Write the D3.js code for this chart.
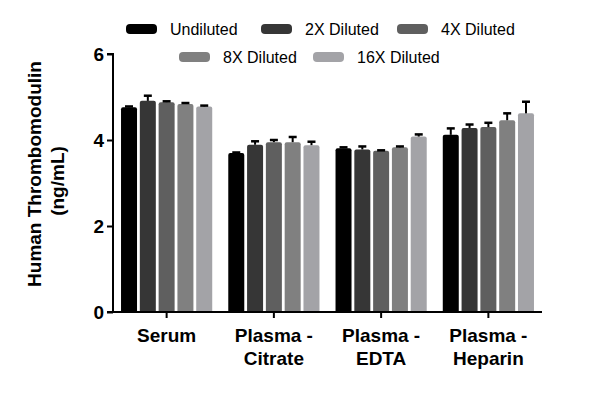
<!DOCTYPE html>
<html><head><meta charset="utf-8">
<script src="https://cdn.jsdelivr.net/npm/d3@7"></script>
<style>body{margin:0;background:#fff}svg{display:block}text{font-family:"Liberation Sans",Arial,sans-serif}</style>
</head><body><svg id="c" width="600" height="394"></svg>
<script>
const categories = [["Serum"], ["Plasma -", "Citrate"], ["Plasma -", "EDTA"], ["Plasma -", "Heparin"]];
const series = ["Undiluted", "2X Diluted", "4X Diluted", "8X Diluted", "16X Diluted"];
const colors = ["#000000", "#363636", "#5f5f5f", "#808080", "#a3a3a7"];
// values per category, per series
const undiluted = [4.76, 3.70, 3.81, 4.12];
const diluted2x = [4.91, 3.89, 3.78, 4.28];
const diluted4x = [4.88, 3.95, 3.75, 4.30];
const diluted8x = [4.84, 3.95, 3.83, 4.46];
const diluted16x = [4.78, 3.88, 4.08, 4.62];
const err2 = [[0.02, 0.12, 0.02, 0.02, 0.02], [0.01, 0.08, 0.05, 0.12, 0.08], [0.02, 0.07, 0.01, 0.02, 0.05], [0.15, 0.08, 0.10, 0.16, 0.27]];
const yTicks = [0, 2, 4, 6];

const values = [undiluted, diluted2x, diluted4x, diluted8x, diluted16x];
const svg = d3.select("#c");
const x0 = d3.scaleBand().domain(d3.range(categories.length)).range([113, 542]);
const gw = 91.2;
const x1 = d3.scaleBand().domain(series).range([0, gw]).paddingInner(0.149);
const y = d3.scaleLinear().domain([0, 6]).range([312, 54]);

// bars
categories.forEach((c, ci) => {
  const gx = x0(ci) + x0.bandwidth() / 2 - gw / 2;
  const g = svg.append("g").attr("transform", `translate(${gx},0)`);
  series.forEach((s, si) => {
    const v = values[si][ci];
    const bx = x1(s), bw = x1.bandwidth();
    const top = y(v), bot = y(0);
    const r = 2;
    g.append("path")
      .attr("d", `M${bx},${bot}V${top + r}Q${bx},${top} ${bx + r},${top}H${bx + bw - r}Q${bx + bw},${top} ${bx + bw},${top + r}V${bot}Z`)
      .attr("fill", colors[si]);
    const e = err2[ci][si];
    const cx = bx + bw / 2;
    g.append("line").attr("x1", cx).attr("x2", cx).attr("y1", top).attr("y2", y(v + e))
      .attr("stroke", "#000").attr("stroke-width", 2);
    g.append("line").attr("x1", cx - 4).attr("x2", cx + 4).attr("y1", y(v + e)).attr("y2", y(v + e))
      .attr("stroke", "#000").attr("stroke-width", 2.5);
  });
});

// y axis
const ya = svg.append("g").attr("transform", "translate(113,0)")
  .call(d3.axisLeft(y).tickValues(yTicks).tickSize(6).tickPadding(3).tickFormat(d3.format("d")));
ya.select(".domain").attr("stroke", "#000").attr("stroke-width", 2).attr("d", "M-6,54H0V312H-6");
ya.selectAll(".tick line").attr("stroke", "#000").attr("stroke-width", 2);
ya.selectAll(".tick text").attr("font-size", 19).attr("font-weight", "bold").attr("fill", "#000")
  .attr("font-family", "Liberation Sans, Arial, sans-serif");

// x axis
const xa = svg.append("g").attr("transform", "translate(0,312)")
  .call(d3.axisBottom(x0).tickSize(6).tickFormat(""));
xa.select(".domain").attr("stroke", "#000").attr("stroke-width", 2).attr("d", "M113,0H542");
xa.selectAll(".tick line").attr("stroke", "#000").attr("stroke-width", 2);
xa.selectAll(".tick").each(function(d) {
  const t = d3.select(this).append("text").attr("text-anchor", "middle").attr("fill", "#000")
    .attr("font-size", 19).attr("font-weight", "bold").attr("font-family", "Liberation Sans, Arial, sans-serif");
  categories[d].forEach((ln, i) => t.append("tspan").attr("x", 0).attr("y", 30 + i * 23).text(ln));
});

// y title
const yt = svg.append("text").attr("transform", "translate(41,174) rotate(-90)").attr("text-anchor", "middle")
  .attr("font-size", 19).attr("font-weight", "bold").attr("fill", "#000").text("Human Thrombomodulin");
svg.append("text").attr("transform", "translate(64,181) rotate(-90)").attr("text-anchor", "middle")
  .attr("font-size", 19).attr("font-weight", "bold").attr("fill", "#000").text("(ng/mL)");

// legend
const legPos = [[126, 29], [261, 29], [397, 29], [179, 57], [313, 57]];
series.forEach((s, i) => {
  const [lx, ly] = legPos[i];
  svg.append("rect").attr("x", lx).attr("y", ly - 5).attr("width", 31).attr("height", 10).attr("rx", 4)
    .attr("fill", colors[i]);
  svg.append("text").attr("x", lx + 44).attr("y", ly + 6).attr("font-size", 16).attr("fill", "#000").text(s);
});
</script></body></html>
